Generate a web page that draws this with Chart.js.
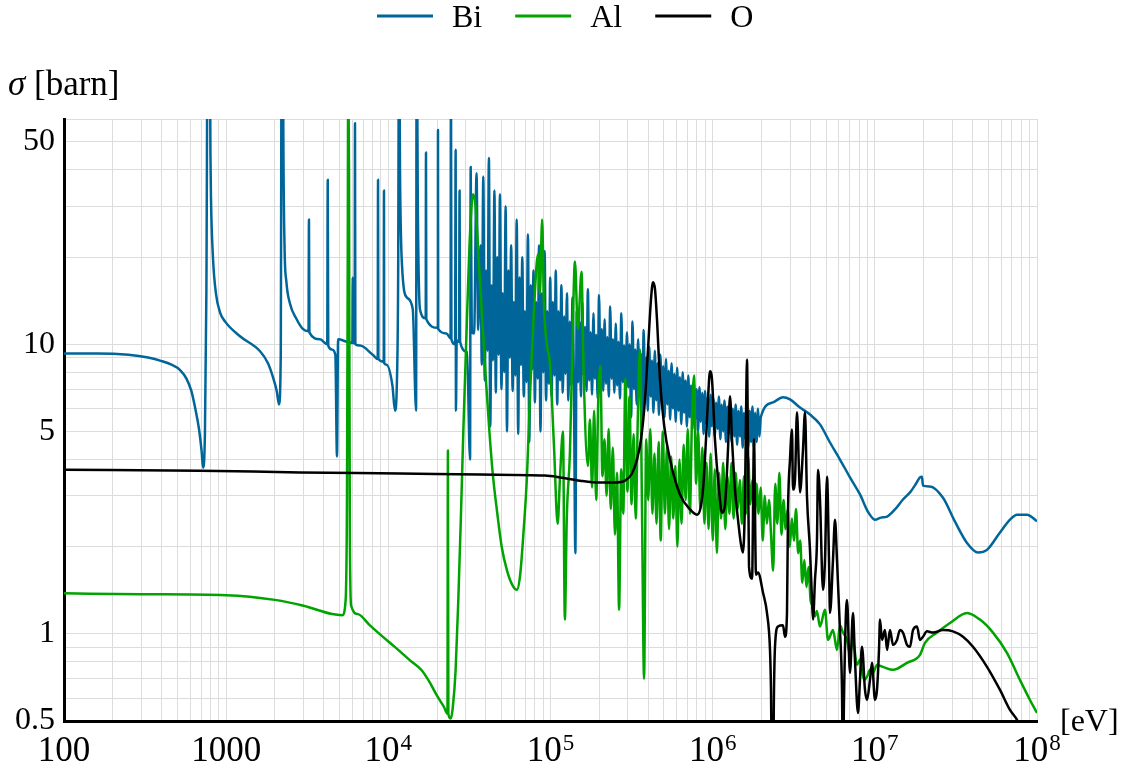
<!DOCTYPE html>
<html>
<head>
<meta charset="utf-8">
<title>Cross sections: Bi, Al, O</title>
<script src="https://cdn.jsdelivr.net/npm/chart.js@4.4.1/dist/chart.umd.min.js"></script>
<style>
  html, body { margin: 0; padding: 0; background: #fff; }
</style>
</head>
<body>
<canvas id="chart" width="1131" height="769"></canvas>
<script>
// energy [eV], cross section [barn]
const biData = [
  [100, 9.3], [160, 9.3], [250, 9.2], [330, 9.0], [400, 8.75], [460, 8.5], [520, 8.15], [570, 7.6], [610, 6.9], [645, 6.0],
  [680, 5.1], [705, 4.3], [720, 3.75], [740, 5.0], [755, 15], [770, 150], [790, 150], [800, 45], [806, 32], [830, 19.7],
  [866, 14.9], [916, 12.9], [983, 12.0], [1217, 10.66], [1618, 9.46], [1811, 8.6], [1945, 7.69], [2050, 6.9], [2118, 6.2], [2170, 9],
  [2200, 150], [2240, 150], [2250, 60], [2290, 22], [2350, 16.5], [2476, 13.8], [2700, 12.3], [2970, 11.3], [3220, 11.1], [3240, 27],
  [3260, 11], [3793, 10.4], [4200, 10.0], [4230, 37], [4260, 9.9], [4479, 9.6], [4713, 9.2], [4823, 4.1], [4900, 10.4], [5563, 10.2],
  [6000, 10.1], [6030, 17], [6060, 10.1], [6200, 10.1], [6230, 58], [6260, 10.0], [6683, 9.9], [8018, 9.2], [8600, 8.9], [8640, 37],
  [8680, 8.9], [9370, 8.7], [9400, 34], [9430, 8.6], [9740, 8.5], [10600, 7.2], [10990, 5.9], [11300, 7.5], [11500, 18], [11640, 150],
  [11800, 40], [12140, 18.8], [13030, 14.5], [14150, 13.2], [14830, 5.9], [14950, 150], [15200, 30], [15680, 13.2], [17000, 12.3], [17070, 46],
  [17150, 12.2], [20200, 11.4], [20240, 55], [20300, 11.3], [22830, 10.9], [24200, 10.5], [24330, 100], [24500, 10.4], [25800, 10], [26000, 47],
  [26120, 5.9], [26400, 10.3], [27300, 10.2], [27500, 34], [27700, 10.2], [30560, 9.4], [31910, 4.0], [32200, 41], [32700, 11], [33800, 10.9],
  [35000, 39], [35800, 11.2],
  // unresolved resonance band
  [37000, 22], [37700, 8.5], [38500, 38], [39300, 7.5], [40100, 18], [40900, 9.5], [41700, 44], [42500, 5.2], [43400, 16], [44200, 8.8],
  [45100, 34], [46000, 6.8], [46900, 20], [47900, 9.2], [48800, 33], [49800, 7.0], [50800, 15], [51800, 8.0], [52900, 30], [53900, 5.0],
  [55000, 18], [56100, 9.0], [57200, 22], [58400, 6.9], [59500, 14], [60700, 7.8], [61900, 27], [63200, 4.9], [64400, 17], [65700, 8.5],
  [67000, 20], [68400, 6.6], [69700, 13], [71100, 7.4], [72600, 24], [74000, 4.6], [75500, 16], [77000, 8.2], [78600, 18], [80100, 6.3],
  [81700, 14], [83400, 7.6], [85000, 22], [86700, 5.0], [88500, 15], [90200, 8.0], [92000, 21], [93900, 6.4], [95800, 13], [97700, 7.3],
  [99600, 17], [101600, 6.6], [103600, 14], [105700, 7.8], [107800, 18], [110000, 6.2], [112200, 13], [114400, 7.5], [116700, 16], [119000, 6.8],
  [121400, 12.5], [123800, 7.9], [126300, 15], [128800, 6.4], [131400, 12], [134000, 7.2], [136700, 14.5], [139500, 6.9], [142300, 1.9], [145100, 13],
  [148000, 7.4], [151000, 12], [154000, 6.6], [157100, 14], [160200, 7.8], [163400, 11.5], [166700, 6.9], [170000, 15.5], [173400, 7.5], [176900, 11],
  [180400, 6.7], [184000, 12.8], [187700, 7.6], [191500, 10.8], [195300, 6.5], [199200, 14.8], [203200, 7.7], [207300, 11.3], [211400, 6.9], [215600, 12.2],
  [219900, 7.3], [224300, 10.6], [228800, 6.6], [233400, 13.5], [238100, 7.6], [242800, 10.4], [247700, 6.8], [252600, 11.8], [257700, 7.2], [262800, 10.2],
  [268100, 6.5], [273400, 12.8], [278900, 7.4], [284500, 9.9], [290200, 6.6], [296000, 11], [301900, 7.1], [307900, 10], [314100, 5.6], [320400, 12.0],
  [326800, 7.0], [333300, 9.6], [340000, 6.2], [346800, 10.4], [353700, 6.9], [360800, 9.3], [368000, 5.4], [375400, 11.2], [382900, 6.7], [390500, 9.0],
  [398300, 5.9], [406300, 9.8], [414400, 6.6], [422700, 8.8], [431200, 5.8], [439800, 9.5], [448600, 6.4], [457500, 8.6], [466700, 5.7], [476000, 9.2],
  [485500, 6.3], [495200, 8.4], [505100, 5.6], [515200, 8.9], [525500, 6.2], [536000, 8.1], [546800, 5.5], [557700, 8.6], [568900, 6.0], [580200, 7.9],
  [591800, 5.4], [603700, 8.3], [615800, 5.9], [628100, 7.7], [640600, 5.3], [653400, 8.0], [666500, 5.8], [679800, 7.5], [693400, 5.2], [707300, 7.8],
  [721400, 5.6], [735900, 7.2], [750600, 5.1], [765600, 7.4], [780900, 5.5], [796500, 7.0], [812500, 5.0], [828700, 7.1], [845300, 5.4], [862200, 6.8],
  [879400, 4.9], [897000, 6.9], [915000, 5.3], [933300, 6.6], [951900, 4.8], [970900, 6.7], [990400, 5.2], [1.010e6, 6.5], [1.030e6, 4.8], [1.051e6, 6.3],
  [1.072e6, 5.1], [1.093e6, 6.6], [1.115e6, 4.7], [1.137e6, 6.2], [1.160e6, 5.0], [1.183e6, 6.4], [1.207e6, 4.6], [1.231e6, 6.1], [1.256e6, 4.9], [1.281e6, 6.3],
  [1.307e6, 4.6], [1.333e6, 6.0], [1.360e6, 4.8], [1.387e6, 6.2], [1.415e6, 4.5], [1.443e6, 5.9], [1.472e6, 4.8], [1.501e6, 6.1], [1.531e6, 4.4], [1.562e6, 5.8],
  [1.593e6, 4.7], [1.625e6, 6.0], [1.657e6, 4.4], [1.690e6, 5.9], [1.724e6, 4.6], [1.759e6, 6.1], [1.794e6, 4.4], [1.830e6, 5.8], [1.866e6, 4.6], [1.904e6, 6.0],
  [1.942e6, 4.8], [1.981e6, 5.6],
  // smooth part
  [2.355e6, 6.30], [2.714e6, 6.56], [2.998e6, 6.45], [3.455e6, 6.05], [3.982e6, 5.72], [4.590e6, 5.29], [5.290e6, 4.58], [6.097e6, 4.00], [7.027e6, 3.47], [8.099e6, 3.03],
  [9.075e6, 2.64], [1.002e7, 2.48], [1.091e7, 2.52], [1.189e7, 2.54], [1.331e7, 2.69], [1.491e7, 2.91], [1.647e7, 3.08], [1.794e7, 3.30], [1.898e7, 3.47], [1.953e7, 3.49],
  [1.981e7, 3.25], [2.188e7, 3.23], [2.633e7, 2.95], [3.121e7, 2.44], [3.702e7, 2.06], [4.327e7, 1.91], [4.916e7, 1.95], [5.913e7, 2.24], [6.814e7, 2.48], [7.526e7, 2.58],
  [8.675e7, 2.58], [1e8, 2.45]
];

const alData = [
  [100, 1.38], [300, 1.37], [1000, 1.36], [2000, 1.31], [3000, 1.25], [4500, 1.17], [5200, 1.16], [5450, 1.3], [5560, 3], [5620, 20],
  [5660, 100], [5720, 40], [5790, 2.2], [5900, 1.25], [6500, 1.17], [7700, 1.07], [9000, 0.99], [11000, 0.9], [13600, 0.81], [16000, 0.75],
  [18000, 0.68], [20000, 0.61], [22000, 0.56], [23150, 0.53], [23300, 4.3], [23450, 0.53], [24300, 0.51], [25000, 0.56], [26000, 0.75], [27000, 1.3],
  [28000, 2.5], [29000, 5], [30500, 12], [32000, 25], [33300, 33], [34500, 30], [36000, 20], [38000, 12], [40000, 7.5], [42000, 5],
  [44000, 3.6], [47000, 2.6], [50000, 2.0], [54000, 1.65], [58000, 1.48], [62100, 1.42], [65000, 1.6], [68000, 2.2], [71600, 3.5], [75000, 7],
  [79000, 13], [83800, 20.5], [86000, 15], [88800, 27], [91000, 14], [95000, 10], [99300, 8.5], [105000, 4.5], [110700, 2.4], [114500, 3.5],
  [119400, 5], [122600, 1.12], [126000, 2.5], [131900, 4.3], [136000, 9], [141500, 19.3], [147500, 11.3], [155300, 17.8], [160000, 8], [170000, 3.8],
  [175100, 5.5], [180400, 3.2], [185800, 5.9], [191300, 2.9], [197100, 6.5], [203000, 8.4], [209100, 3.5], [215300, 4.7], [221800, 3.0], [228400, 5.1],
  [235300, 2.7], [242400, 4.4], [249600, 2.2], [257100, 3.6], [264800, 1.21], [272800, 3.7], [281000, 2.6], [289400, 7.6], [298100, 3.1], [307000, 6.6],
  [316200, 2.8], [325700, 4.9], [335500, 2.5], [345500, 5.6], [355900, 9.6], [366600, 2.7], [377600, 0.70], [388900, 4.7], [400600, 2.9], [412600, 5.1],
  [425000, 2.6], [437700, 4.2], [450800, 2.4], [464400, 4.6], [478300, 2.1], [492600, 5.0], [507400, 2.6], [522700, 4.4], [538300, 2.3], [554500, 4.1],
  [571100, 2.5], [588200, 3.8], [605900, 2.0], [624100, 4.0], [642800, 2.4], [662100, 4.5], [681900, 2.9], [702400, 5.1], [723500, 2.6], [745200, 5.5],
  [767500, 7.8], [790500, 3.3], [814200, 5.0], [838700, 2.7], [863900, 4.4], [889800, 2.4], [916500, 3.9], [944000, 2.3], [972300, 4.2], [1.001e6, 2.1],
  [1.031e6, 3.7], [1.062e6, 1.9], [1.094e6, 3.6], [1.127e6, 2.5], [1.161e6, 3.9], [1.196e6, 2.3], [1.232e6, 3.5], [1.269e6, 2.6], [1.307e6, 3.9], [1.346e6, 2.5],
  [1.386e6, 3.6], [1.428e6, 2.7], [1.471e6, 3.4], [1.515e6, 2.4], [1.560e6, 3.5], [1.607e6, 2.6], [1.655e6, 4.1], [1.705e6, 2.8], [1.756e6, 3.4], [1.809e6, 2.5],
  [1.863e6, 3.3], [1.919e6, 2.6], [1.977e6, 3.2], [2.036e6, 2.1], [2.097e6, 3.0], [2.160e6, 2.4], [2.225e6, 2.9], [2.291e6, 2.2], [2.360e6, 1.65], [2.431e6, 3.3],
  [2.504e6, 2.4], [2.579e6, 3.6], [2.656e6, 2.2], [2.736e6, 2.9], [2.818e6, 2.3], [2.903e6, 2.7], [2.990e6, 2.0], [3.079e6, 2.5], [3.172e6, 2.1], [3.267e6, 2.7],
  [3.365e6, 1.9], [3.466e6, 2.1], [3.570e6, 1.5], [3.677e6, 1.8], [3.787e6, 1.45], [3.901e6, 1.7], [4.018e6, 1.3], [4.139e6, 1.25], [4.263e6, 1.15], [4.391e6, 1.2],
  [4.590e6, 1.06], [4.927e6, 1.21], [5.141e6, 0.953], [5.521e6, 1.03], [5.843e6, 0.88], [6.097e6, 1.07], [6.362e6, 1.01], [6.734e6, 0.953], [7.027e6, 0.846], [7.333e6, 0.953],
  [7.762e6, 0.781], [8.099e6, 0.813], [8.572e6, 0.693], [8.946e6, 0.71], [9.335e6, 0.751], [9.741e6, 0.733], [1.031e7, 0.781], [1.123e7, 0.769], [1.294e7, 0.751], [1.579e7, 0.794],
  [1.898e7, 0.846], [2.038e7, 0.931], [2.417e7, 1.01], [2.906e7, 1.09], [3.702e7, 1.18], [4.450e7, 1.12], [5.353e7, 1.01], [6.528e7, 0.86], [7.855e7, 0.693], [9.050e7, 0.591],
  [1e8, 0.533]
];

const oData = [
  [100, 3.69], [690, 3.66], [2853, 3.61], [11800, 3.58], [36750, 3.55], [92500, 3.52], [114400, 3.47], [152000, 3.38], [201900, 3.33], [249900, 3.33],
  [288000, 3.38], [318100, 3.58], [341500, 4.00], [361400, 4.69], [382600, 6.45], [399300, 9.61], [416600, 14.31], [428600, 16.39], [440900, 15.50], [453500, 12.20],
  [473300, 7.57], [501100, 5.29], [545500, 4.00], [628800, 3.03], [724800, 2.69], [800500, 2.58], [871800, 3.15], [909500, 4.69], [935800, 6.45], [962700, 8.07],
  [990400, 7.57], [1.033e6, 4.69], [1.094e6, 3.15], [1.141e6, 2.62], [1.191e6, 2.80], [1.243e6, 4.33], [1.279e6, 6.61], [1.316e6, 4.69], [1.373e6, 3.15], [1.433e6, 2.48],
  [1.496e6, 2.03], [1.538e6, 1.91], [1.582e6, 2.91], [1.605e6, 5.50], [1.628e6, 8.87], [1.651e6, 4.33], [1.675e6, 1.71], [1.750e6, 1.55], [1.798e6, 4.7], [1.850e6, 1.6],
  [1.904e6, 1.63], [2.043e6, 1.39], [2.163e6, 1.18], [2.257e6, 0.88], [2.289e6, 0.64], [2.322e6, 0.3], [2.355e6, 0.3], [2.389e6, 0.64], [2.423e6, 0.902], [2.528e6, 1.06],
  [2.714e6, 1.07], [2.793e6, 0.977], [2.873e6, 1.18], [2.914e6, 2.62], [2.998e6, 4.00], [3.084e6, 5.08], [3.129e6, 3.15], [3.219e6, 3.41], [3.311e6, 5.82], [3.406e6, 3.69],
  [3.455e6, 3.08], [3.606e6, 4.33], [3.710e6, 5.82], [3.816e6, 2.98], [3.982e6, 1.95], [4.097e6, 1.31], [4.156e6, 1.12], [4.276e6, 1.54], [4.398e6, 2.11], [4.461e6, 3.69],
  [4.590e6, 2.91], [4.789e6, 1.42], [4.927e6, 1.80], [5.070e6, 3.49], [5.216e6, 1.80], [5.290e6, 1.18], [5.521e6, 1.80], [5.680e6, 2.48], [5.843e6, 1.80], [6.097e6, 1.03],
  [6.273e6, 0.64], [6.362e6, 0.3], [6.453e6, 0.591], [6.734e6, 1.31], [7.027e6, 0.733], [7.333e6, 1.18], [7.544e6, 0.813], [7.873e6, 0.533], [8.099e6, 0.693], [8.333e6, 0.902],
  [8.696e6, 0.64], [8.946e6, 0.591], [9.335e6, 0.693], [9.605e6, 0.794], [1.002e7, 0.591], [1.031e7, 0.64], [1.061e7, 0.88], [1.076e7, 1.12], [1.107e7, 0.953], [1.155e7, 1.03],
  [1.189e7, 0.88], [1.240e7, 1.03], [1.294e7, 0.916], [1.370e7, 0.953], [1.429e7, 1.03], [1.491e7, 1.01], [1.579e7, 0.916], [1.647e7, 0.902], [1.719e7, 1.03], [1.820e7, 1.06],
  [1.898e7, 0.953], [1.981e7, 0.977], [2.097e7, 1.02], [2.284e7, 1.01], [2.633e7, 1.03], [3.033e7, 1.02], [3.497e7, 0.977], [4.030e7, 0.902], [4.916e7, 0.769], [5.913e7, 0.64],
  [6.814e7, 0.546], [7.632e7, 0.498], [8.432e7, 0.43]
];

const xTickValues = [1e2, 1e3, 1e4, 1e5, 1e6, 1e7, 1e8];
const xTickBase = ['100', '1000', '10', '10', '10', '10', '10'];
const xTickExp = ['', '', '4', '5', '6', '7', '8'];
const yTickValues = [0.5, 1, 5, 10, 50];
const yTickLabels = ['0.5', '1', '5', '10', '50'];

const FONT = '"Liberation Serif", "DejaVu Serif", serif';
const GRID = '#dcdcdc';

// minor grid: every 1..9 of each decade
const xGrid = [];
for (let e = 2; e < 8; e++) {
  for (let m = 1; m < 10; m++) xGrid.push(m * Math.pow(10, e));
}
xGrid.push(1e8);
const yGrid = [0.5, 0.6, 0.7, 0.8, 0.9, 1, 2, 3, 4, 5, 6, 7, 8, 9, 10, 20, 30, 40, 50, 60];

const toPoints = rows => rows.map(([x, y]) => ({ x, y }));

const textLayer = {
  id: 'textLayer',
  afterDraw(chart) {
    const { ctx, chartArea, scales: { x, y } } = chart;
    ctx.save();
    ctx.fillStyle = '#000';

    // y tick labels
    ctx.font = `32px ${FONT}`;
    ctx.textAlign = 'right';
    ctx.textBaseline = 'middle';
    yTickValues.forEach((v, i) => {
      ctx.fillText(yTickLabels[i], chartArea.left - 9, y.getPixelForValue(v));
    });

    // x tick labels, powers written with a raised exponent
    ctx.textAlign = 'left';
    ctx.textBaseline = 'alphabetic';
    xTickValues.forEach((v, i) => {
      const px = x.getPixelForValue(v);
      ctx.font = `35px ${FONT}`;
      const wBase = ctx.measureText(xTickBase[i]).width;
      ctx.font = `23px ${FONT}`;
      const wExp = xTickExp[i] ? ctx.measureText(xTickExp[i]).width + 1 : 0;
      const left = px - (wBase + wExp) / 2;
      ctx.font = `35px ${FONT}`;
      ctx.fillText(xTickBase[i], left, chartArea.bottom + 40);
      if (xTickExp[i]) {
        ctx.font = `23px ${FONT}`;
        ctx.fillText(xTickExp[i], left + wBase + 1, chartArea.bottom + 29);
      }
    });

    // axis titles
    ctx.font = `italic 35px ${FONT}`;
    ctx.fillText('σ', 8, 95);
    const wSigma = ctx.measureText('σ').width;
    ctx.font = `35px ${FONT}`;
    ctx.fillText(' [barn]', 8 + wSigma, 95);
    ctx.font = `32px ${FONT}`;
    ctx.fillText('[eV]', chartArea.right + 23, chartArea.bottom + 10);

    // legend
    let lx = 377;
    chart.data.datasets.forEach(ds => {
      ctx.strokeStyle = ds.borderColor;
      ctx.lineWidth = 3;
      ctx.beginPath();
      ctx.moveTo(lx, 16);
      ctx.lineTo(lx + 56, 16);
      ctx.stroke();
      ctx.fillText(ds.label, lx + 75, 27);
      lx += 75 + ctx.measureText(ds.label).width + 33;
    });
    ctx.restore();
  }
};

const line = (label, rows, color, order) => ({
  label,
  data: toPoints(rows),
  borderColor: color,
  backgroundColor: color,
  borderWidth: 2.5,
  borderJoinStyle: 'round',
  cubicInterpolationMode: 'monotone',
  pointRadius: 0,
  clip: 0,
  order
});

new Chart(document.getElementById('chart'), {
  type: 'line',
  data: {
    datasets: [
      line('Bi', biData, '#00669a', 3),
      line('Al', alData, '#00a300', 2),
      line('O', oData, '#000000', 1)
    ]
  },
  options: {
    responsive: false,
    devicePixelRatio: 1,
    animation: false,
    events: [],
    layout: { padding: { left: 64, right: 94, top: 119, bottom: 48 } },
    plugins: {
      legend: { display: false },
      tooltip: { enabled: false }
    },
    scales: {
      x: {
        type: 'logarithmic',
        min: 100,
        max: 1e8,
        afterBuildTicks: scale => { scale.ticks = xGrid.map(value => ({ value })); },
        ticks: { display: false },
        grid: { color: GRID, drawTicks: false },
        border: { color: '#000', width: 3 }
      },
      y: {
        type: 'logarithmic',
        min: 0.5,
        max: 60,
        afterBuildTicks: scale => { scale.ticks = yGrid.map(value => ({ value })); },
        ticks: { display: false },
        grid: { color: GRID, drawTicks: false },
        border: { color: '#000', width: 3 }
      }
    }
  },
  plugins: [textLayer]
});
</script>
</body>
</html>
